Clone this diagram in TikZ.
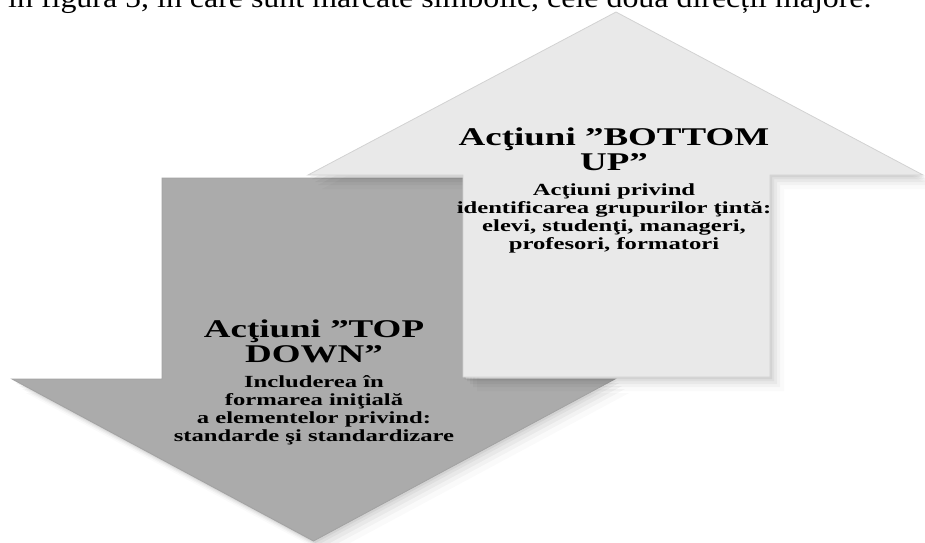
\documentclass[tikz,border=0pt]{standalone}
\usepackage{fontspec}
\setmainfont{Liberation Serif}
\newfontfamily\arrowfont[FakeStretch=1.45]{Liberation Serif}
\newfontfamily\captionfont[FakeStretch=1.14]{Liberation Serif}
\usepackage{xcolor}
\usetikzlibrary{positioning}
\definecolor{uparrow}{HTML}{E9E9E9}
\definecolor{downarrow}{HTML}{ABABAB}
\definecolor{upedge}{HTML}{D2D2D2}
\definecolor{downedge}{HTML}{A2A2A2}
\tikzset{
  softshadow/.style={
    preaction={fill=black, opacity=0.05, transform canvas={shift={(2,2)}}},
    preaction={fill=black, opacity=0.05, transform canvas={shift={(4,4)}}},
    preaction={fill=black, opacity=0.04, transform canvas={shift={(7,7)}}},
    preaction={fill=black, opacity=0.03, transform canvas={shift={(10,10)}}},
    preaction={fill=black, opacity=0.02, transform canvas={shift={(14,14)}}}
  },
  upshape/.style={fill=uparrow, draw=upedge, line width=0.8pt, softshadow},
  downshape/.style={fill=downarrow, draw=downedge, line width=0.8pt, softshadow},
  titletext/.style={font=\arrowfont\bfseries\fontsize{25.5}{25}\selectfont,
    align=center, inner sep=0pt, anchor=north},
  bodytext/.style={font=\arrowfont\bfseries\fontsize{17}{18.2}\selectfont,
    align=center, inner sep=0pt, anchor=north},
  captiontext/.style={font=\captionfont\fontsize{28}{30}\selectfont, inner sep=0pt, anchor=base west}
}

\begin{document}
\begin{tikzpicture}[x=1pt, y=-1pt]
  \useasboundingbox (0,0) rectangle (925,542);
  \clip (0,0) rectangle (925,542);

  % arrow "top down"
  \coordinate (D1) at (162,178);
  \coordinate (D2) at (465,178);
  \coordinate (D3) at (465,379);
  \coordinate (D4) at (615,379);
  \coordinate (D5) at (313.5,541);
  \coordinate (D6) at (12,379);
  \coordinate (D7) at (162,379);
  \draw[downshape] (D1) -- (D2) -- (D3) -- (D4) -- (D5) -- (D6) -- (D7) -- cycle;

  % arrow "bottom up"
  \coordinate (U1) at (616,12);
  \coordinate (U2) at (923,175);
  \coordinate (U3) at (770,175);
  \coordinate (U4) at (770,377);
  \coordinate (U5) at (463,377);
  \coordinate (U6) at (463,175);
  \coordinate (U7) at (308,175);
  \draw[upshape] (U1) -- (U2) -- (U3) -- (U4) -- (U5) -- (U6) -- (U7) -- cycle;

  \node[captiontext] (caption) at (8,7)
    {în figura 5, în care sunt marcate simbolic, cele două direcții majore.};

  \node[titletext] (uptitle) at (614,128) {Acţiuni ”BOTTOM\\UP”};
  \node[bodytext] (upbody) at (614,183)
    {Acţiuni privind\\identificarea grupurilor ţintă:\\elevi, studenţi, manageri,\\profesori, formatori};

  \node[titletext] (downtitle) at (314,320) {Acţiuni ”TOP\\DOWN”};
  \node[bodytext] (downbody) at (314,375)
    {Includerea în\\formarea iniţială\\a elementelor privind:\\standarde şi standardizare};
\end{tikzpicture}
\end{document}
